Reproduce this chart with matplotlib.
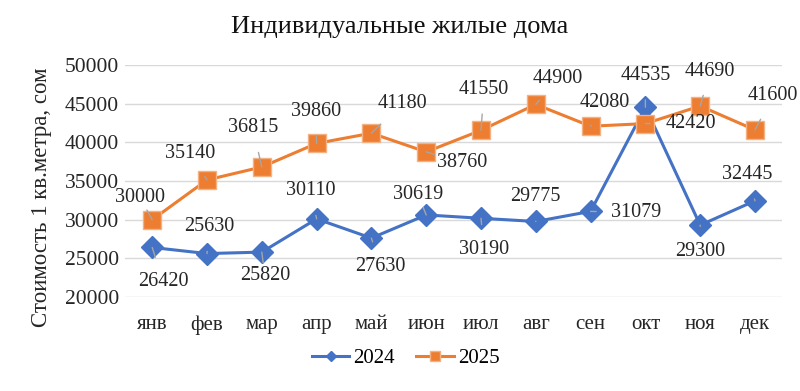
import matplotlib
matplotlib.use("Agg")
import matplotlib.pyplot as plt

months = ["янв", "фев", "мар", "апр", "май", "июн", "июл", "авг", "сен", "окт", "ноя", "дек"]
v2024 = [26420, 25630, 25820, 30110, 27630, 30619, 30190, 29775, 31079, 44535, 29300, 32445]
v2025 = [30000, 35140, 36815, 39860, 41180, 38760, 41550, 44900, 42080, 42420, 44690, 41600]

# label offsets in pixels (dx, dy) - screen coords, y up
off2024 = [(11, -34), (2, 27), (3, -23), (-6, 28), (9, -28), (-8, 20),
           (3, -31), (0, 25), (46, -1), (0, 32), (0, -26), (-8, 26)]
off2025 = [(-12, 22), (-17, 26), (-9, 39), (-1, 32), (31, 30), (36, -11),
           (3, 41), (22, 26), (14, 24), (45, 0), (10, 35), (18, 34)]

plt.rcParams['font.family'] = ['Liberation Serif', 'DejaVu Serif']

fig = plt.figure(figsize=(8, 3.91), dpi=100)
ax = fig.add_axes([0.156, 0.240, 0.822, 0.594])

blue = "#4472C4"
orange = "#ED7D31"
x = list(range(len(months)))

ax.plot(x, v2024, color=blue, lw=2.2, marker="D", ms=11, mfc=blue, mec=blue, label="2024", zorder=3)
ax.plot(x, v2025, color=orange, lw=2.2, marker="s", ms=13, mfc=orange, mec="#F4B183", mew=1, label="2025", zorder=4)

def label(vals, offs):
    for i, (v, (dx, dy)) in enumerate(zip(vals, offs)):
        ax.annotate(str(v), xy=(i, v), xytext=(dx * 0.72, dy * 0.72), textcoords="offset points",
                    ha="center", va="center", fontsize=14.5, color="#262626", zorder=6,
                    arrowprops=dict(arrowstyle="-", color="#A6A6A6", lw=1,
                                    shrinkA=9, shrinkB=0))

label(v2024, off2024)
label(v2025, off2025)

ax.set_xlim(-0.5, 11.5)
ax.set_ylim(20000, 50000)
ax.set_yticks(range(20000, 50001, 5000))
ax.set_xticks(x)
ax.set_xticklabels(months, fontsize=15)
ax.tick_params(axis="both", length=0, colors="#262626")
ax.tick_params(axis="y", labelsize=15.5, pad=4)
ax.tick_params(axis="x", pad=13)
ax.grid(axis="y", color="#D9D9D9", lw=1)
ax.set_axisbelow(True)
for s in ax.spines.values():
    s.set_visible(False)

ax.set_ylabel("Стоимость 1 кв.метра, сом", fontsize=16.5, color="#262626")
ax.yaxis.set_label_coords(-0.111, 0.43)
fig.suptitle("Индивидуальные жилые дома", fontsize=19, y=0.96, color="#111111")

fig.legend(loc="center", bbox_to_anchor=(0.507, 0.084), ncol=2, frameon=False,
           fontsize=15, handlelength=1.8, markerscale=0.5, columnspacing=1.0, handletextpad=0.2)

fig.savefig("out.png", dpi=100, facecolor="white")
